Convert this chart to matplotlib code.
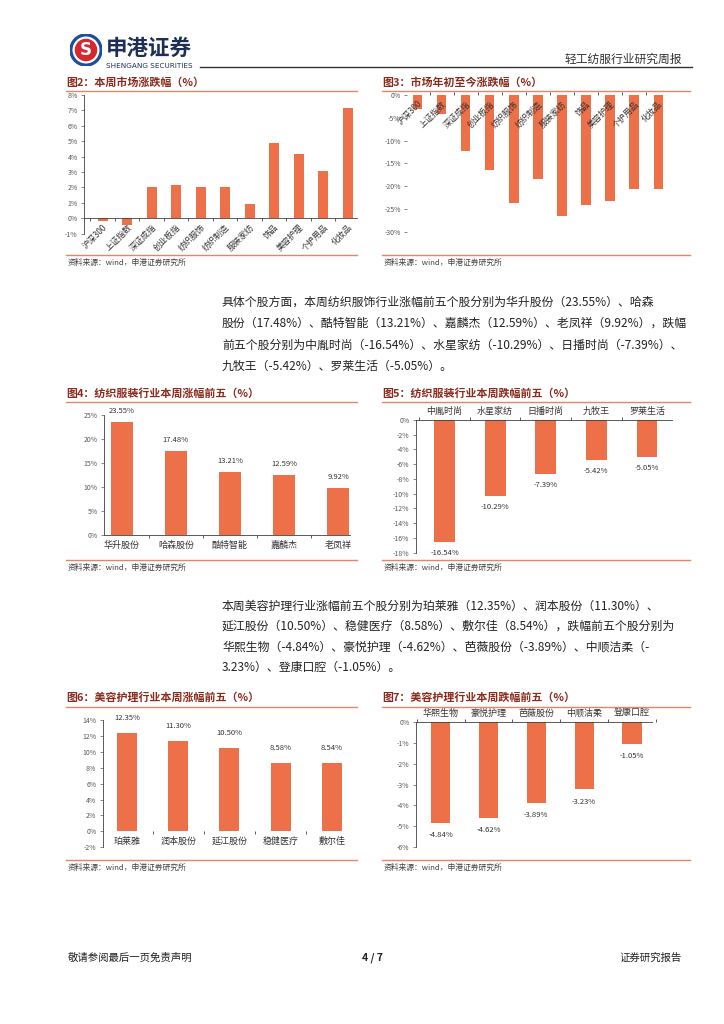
import matplotlib
matplotlib.use("Agg")
import matplotlib.pyplot as plt
from matplotlib.lines import Line2D
from matplotlib.patches import Circle
from matplotlib.ticker import FixedLocator

plt.rcParams['font.family'] = ['Noto Sans CJK SC', 'DejaVu Sans']
plt.rcParams['axes.unicode_minus'] = False

# ---- data ----
market_names = ["沪深300", "上证指数", "深证成指", "创业板指", "纺织服饰", "纺织制造",
                "服装家纺", "饰品", "美容护理", "个护用品", "化妆品"]
week_change = [-0.17, -0.42, 2.0, 2.15, 2.0, 2.0, 0.93, 4.88, 4.17, 3.05, 7.16]
ytd_change = [-3.15, -4.25, -12.3, -16.4, -23.6, -18.4, -26.5, -24.2, -23.3, -20.7, -20.7]

tex_up_names = ["华升股份", "哈森股份", "酷特智能", "嘉麟杰", "老凤祥"]
tex_up_vals = [23.55, 17.48, 13.21, 12.59, 9.92]
tex_down_names = ["中胤时尚", "水星家纺", "日播时尚", "九牧王", "罗莱生活"]
tex_down_vals = [-16.54, -10.29, -7.39, -5.42, -5.05]

beauty_up_names = ["珀莱雅", "润本股份", "延江股份", "稳健医疗", "敷尔佳"]
beauty_up_vals = [12.35, 11.30, 10.50, 8.58, 8.54]
beauty_down_names = ["华熙生物", "豪悦护理", "芭薇股份", "中顺洁柔", "登康口腔"]
beauty_down_vals = [-4.84, -4.62, -3.89, -3.23, -1.05]

para1 = ["具体个股方面，本周纺织服饰行业涨幅前五个股分别为华升股份（23.55%）、哈森",
         "股份（17.48%）、酷特智能（13.21%）、嘉麟杰（12.59%）、老凤祥（9.92%），跌幅",
         "前五个股分别为中胤时尚（-16.54%）、水星家纺（-10.29%）、日播时尚（-7.39%）、",
         "九牧王（-5.42%）、罗莱生活（-5.05%）。"]
para2 = ["本周美容护理行业涨幅前五个股分别为珀莱雅（12.35%）、润本股份（11.30%）、",
         "延江股份（10.50%）、稳健医疗（8.58%）、敷尔佳（8.54%），跌幅前五个股分别为",
         "华熙生物（-4.84%）、豪悦护理（-4.62%）、芭薇股份（-3.89%）、中顺洁柔（-",
         "3.23%）、登康口腔（-1.05%）。"]

BAR = "#EE7049"
TITLE_C = "#8A2A1C"
LINE_C = "#E0866A"
TICK_C = "#595959"
AXIS_C = "#3F3F3F"

W, H = 724, 1024
fig = plt.figure(figsize=(W / 100, H / 100), dpi=100)
fig.patch.set_facecolor("white")


def ax_px(x0, y0, x1, y1):
    return fig.add_axes([x0 / W, 1 - y1 / H, (x1 - x0) / W, (y1 - y0) / H])


def ftext(x, y, s, **kw):
    fig.text(x / W, 1 - y / H, s, **kw)


def hline(x0, x1, y, color, lw):
    fig.add_artist(Line2D([x0 / W, x1 / W], [1 - y / H, 1 - y / H], color=color, lw=lw))


def panel(x0, x1, title, y_title, y_line, y_bot):
    ftext(x0, y_title, title, fontsize=7.9, fontweight="bold", color=TITLE_C, va="center")
    hline(x0, x1, y_line, LINE_C, 1.0)
    hline(x0, x1, y_bot, LINE_C, 1.0)
    ftext(x0 + 2, y_bot + 7.5, "资料来源：wind，申港证券研究所", fontsize=5.6,
          style="italic", color="#404040", va="center")


def base_axes(ax, ylo, yhi, step, n):
    ax.set_ylim(ylo, yhi)
    ticks = list(range(ylo, yhi + 1, step))
    ax.set_yticks(ticks)
    ax.set_yticklabels([f"{t}%" for t in ticks])
    ax.tick_params(axis="y", labelsize=5, colors=TICK_C, length=2.5, width=0.5, pad=2)
    ax.spines["right"].set_visible(False)
    ax.spines["top"].set_visible(False)
    ax.spines["left"].set_color(AXIS_C)
    ax.spines["left"].set_linewidth(0.6)
    ax.spines["bottom"].set_color(AXIS_C)
    ax.spines["bottom"].set_linewidth(0.6)
    ax.set_xticks(range(n))
    ax.xaxis.set_minor_locator(FixedLocator([i + 0.5 for i in range(-1, n)]))
    ax.tick_params(axis="x", which="major", length=0)
    ax.tick_params(axis="x", which="minor", length=2.5, width=0.6, color=AXIS_C)
    ax.patch.set_alpha(0)


# ---- header ----
lax = ax_px(70, 34, 102, 66)
lax.set_xlim(-1, 1)
lax.set_ylim(-1, 1)
lax.set_aspect("equal")
lax.axis("off")
lax.add_patch(Circle((0, 0), 1.0, color="#1C4E9B"))
lax.add_patch(Circle((0, 0), 0.80, color="white"))
lax.add_patch(Circle((0, 0), 0.66, color="#D42A2F"))
lax.text(0, -0.03, "S", color="white", fontsize=12, fontweight="bold", ha="center", va="center",
         family="DejaVu Sans")
ftext(106, 48, "申港证券", fontsize=15.5, fontweight="bold", color="#1E2F55", va="center")
ftext(106, 66, "SHENGANG SECURITIES", fontsize=5.2, color="#1E2F55", va="center",
      family="DejaVu Sans")
ftext(682, 59, "轻工纺服行业研究周报", fontsize=8.5, color="#333333", va="center", ha="right")
hline(200, 692, 67, "#333333", 1.0)

# ---- fig 2 ----
panel(66, 357, "图2：本周市场涨跌幅（%）", 83, 91, 255)
ax = ax_px(84, 95, 357, 233.7)
x = range(len(market_names))
ax.bar(x, week_change, width=0.41, color=BAR)
base_axes(ax, -1, 8, 1, len(market_names))
ax.set_xlim(-0.76, 10.38)
ax.spines["bottom"].set_position(("data", 0))
ax.set_xticklabels(market_names, rotation=45, ha="right", rotation_mode="anchor",
                   fontsize=6, color="#333333")
ax.tick_params(axis="x", which="major", pad=3)

# ---- fig 3 ----
panel(382, 690, "图3：市场年初至今涨跌幅（%）", 83, 91, 255)
ax = ax_px(407, 95, 670, 231.7)
ax.bar(x, ytd_change, width=0.39, color=BAR)
base_axes(ax, -30, 0, 5, len(market_names))
ax.set_xlim(-0.44, 10.49)
ax.spines["left"].set_visible(False)
ax.spines["bottom"].set_visible(False)
ax.spines["bottom"].set_position(("data", 0))
ax.tick_params(axis="x", which="minor", direction="in", length=2.5)
ax.set_xticklabels(market_names, rotation=45, ha="right", rotation_mode="anchor",
                   fontsize=6, color="#333333")
ax.tick_params(axis="x", which="major", pad=3)

# ---- paragraph 1 ----
for i, line in enumerate(para1):
    ftext(222, 302 + i * 21.5, line, fontsize=8.55, color="#222222", va="center")

# ---- fig 4 ----
panel(66, 357, "图4：纺织服装行业本周涨幅前五（%）", 393, 401.5, 560)
ax = ax_px(104, 415, 350, 535.3)
x5 = range(5)
ax.bar(x5, tex_up_vals, width=0.41, color=BAR)
base_axes(ax, 0, 25, 5, 5)
ax.set_xlim(-0.33, 4.22)
ax.set_xticklabels(tex_up_names, fontsize=6.5, color="#333333")
ax.tick_params(axis="x", which="major", pad=4)
for xi, v in zip(x5, tex_up_vals):
    ax.annotate(f"{v:.2f}%", (xi, v), xytext=(0, 5), textcoords="offset points",
                ha="center", va="bottom", fontsize=5.5, color="#333333")

# ---- fig 5 ----
panel(382, 690, "图5：纺织服装行业本周跌幅前五（%）", 393, 401.5, 560)
ax = ax_px(415.7, 420, 671.7, 552.7)
ax.bar(x5, tex_down_vals, width=0.41, color=BAR)
base_axes(ax, -18, 0, 2, 5)
ax.set_xlim(-0.57, 4.49)
ax.xaxis.set_ticks_position("top")
ax.spines["top"].set_visible(True)
ax.spines["top"].set_color(AXIS_C)
ax.spines["top"].set_linewidth(0.6)
ax.spines["bottom"].set_visible(False)
ax.set_xticklabels(tex_down_names, fontsize=6.5, color="#333333")
ax.tick_params(axis="x", which="major", pad=3)
for xi, v in zip(x5, tex_down_vals):
    ax.annotate(f"{v:.2f}%", (xi, v), xytext=(0, -5), textcoords="offset points",
                ha="center", va="top", fontsize=5.5, color="#333333")

# ---- paragraph 2 ----
for i, line in enumerate(para2):
    ftext(222, 606 + i * 20.5, line, fontsize=8.55, color="#222222", va="center")

# ---- fig 6 ----
panel(66, 357, "图6：美容护理行业本周涨幅前五（%）", 698, 706.5, 860)
ax = ax_px(102.7, 720, 356.7, 847.3)
ax.bar(x5, beauty_up_vals, width=0.39, color=BAR)
base_axes(ax, -2, 14, 2, 5)
ax.set_xlim(-0.48, 4.49)
ax.spines["bottom"].set_position(("data", 0))
ax.spines["bottom"].set_visible(False)
ax.set_xticklabels(beauty_up_names, fontsize=6.5, color="#333333")
ax.tick_params(axis="x", which="major", pad=4)
for xi, v in zip(x5, beauty_up_vals):
    ax.annotate(f"{v:.2f}%", (xi, v), xytext=(0, 8), textcoords="offset points",
                ha="center", va="bottom", fontsize=5.5, color="#333333", annotation_clip=False)

# ---- fig 7 ----
panel(382, 690, "图7：美容护理行业本周跌幅前五（%）", 698, 706.5, 860)
ax = ax_px(415.7, 722.3, 671.7, 846.7)
ax.bar(x5, beauty_down_vals, width=0.4, color=BAR)
base_axes(ax, -6, 0, 1, 5)
ax.set_xlim(-0.52, 4.83)
ax.xaxis.set_ticks_position("top")
ax.spines["bottom"].set_visible(False)
ax.spines["top"].set_visible(True)
ax.spines["top"].set_color(AXIS_C)
ax.spines["top"].set_linewidth(0.6)
ax.spines["top"].set_bounds(-0.52, 4.42)
ax.set_xticklabels(beauty_down_names, fontsize=6.5, color="#333333")
ax.tick_params(axis="x", which="major", pad=3)
for xi, v in zip(x5, beauty_down_vals):
    ax.annotate(f"{v:.2f}%", (xi, v), xytext=(0, -6), textcoords="offset points",
                ha="center", va="top", fontsize=5.5, color="#333333")

# ---- footer ----
ftext(68, 958, "敬请参阅最后一页免责声明", fontsize=7.5, color="#222222", va="center")
ftext(372, 958, "4 / 7", fontsize=7.5, color="#222222", va="center", ha="center",
      fontweight="bold")
ftext(682, 958, "证券研究报告", fontsize=7.5, color="#222222", va="center", ha="right")

fig.savefig("out.png", dpi=100)
